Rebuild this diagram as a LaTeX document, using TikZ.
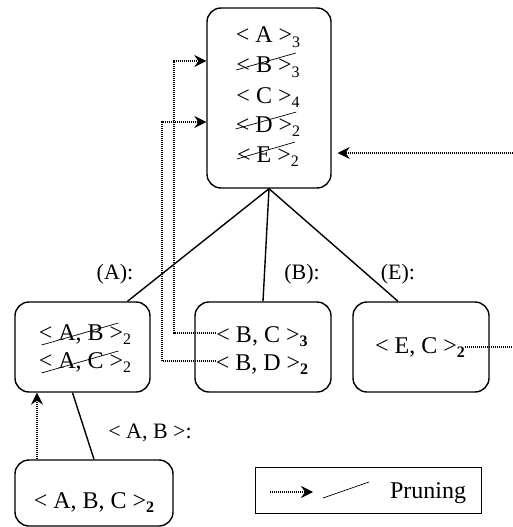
\documentclass[tikz,border=0pt]{standalone}
\usepackage{fontspec}
\setmainfont{Liberation Serif}
\usetikzlibrary{arrows.meta}
\newcommand{\sbn}[1]{{\fontsize{16}{16}\selectfont\raisebox{-4.5pt}{#1}}}
\newcommand{\sbb}[1]{{\fontsize{16}{16}\selectfont\bfseries\raisebox{-4.5pt}{#1}}}
\begin{document}
\begin{tikzpicture}[x=1pt,y=-1pt,
 box/.style={draw, line width=1.4pt, rounded corners=14pt, inner sep=0pt},
 txt/.style={font=\fontsize{24}{28}\selectfont, inner sep=0pt, anchor=base},
 lbl/.style={font=\fontsize{22}{26}\selectfont, inner sep=0pt, anchor=base},
 tedge/.style={line width=1.4pt},
 dots/.style={line width=1.1pt, dash pattern=on 1pt off 1pt},
 prune/.style={dots, -{Stealth[length=12pt,width=12pt,inset=4pt]}},
 strike/.style={line width=0.7pt}]
\useasboundingbox (0,0) rectangle (513,527);
% boxes
\node[box, minimum width=124pt, minimum height=180pt] (top) at (269,98) {};
\node[box, minimum width=135pt, minimum height=90pt] (ba) at (82.5,347) {};
\node[box, minimum width=136pt, minimum height=90pt] (bb) at (263,347) {};
\node[box, minimum width=136pt, minimum height=90pt] (be) at (421,347) {};
\node[box, minimum width=158pt, minimum height=66pt] (babc) at (94,493) {};
\node[draw, line width=1pt, minimum width=226pt, minimum height=46pt, inner sep=0pt] (leg) at (368,490) {};
% top box texts
\node[txt] (ta) at (268,43) {< A >\sbn{3}};
\node[txt] (tb) at (268,73) {< B >\sbn{3}};
\node[txt] (tc) at (268,103) {< C >\sbn{4}};
\node[txt] (td) at (268,132) {< D >\sbn{2}};
\node[txt] (te) at (268,162) {< E >\sbn{2}};
% box texts
\node[txt] (ab) at (85,340) {< A, B >\sbn{2}};
\node[txt] (ac) at (85,368) {< A, C >\sbn{2}};
\node[txt] (bc) at (262,342) {< B, C >\sbb{3}};
\node[txt] (bd) at (262,370) {< B, D >\sbb{2}};
\node[txt] (ec) at (420,353) {< E, C >\sbb{2}};
\node[txt] (abc) at (94,508) {< A, B, C >\sbb{2}};
% labels
\node[lbl] (la) at (115,279) {(A):};
\node[lbl] (lb) at (302,279) {(B):};
\node[lbl] (le) at (398,279) {(E):};
\node[lbl] (lab) at (150,438) {< A, B >:};
% tree edges
\draw[tedge] (top.south) -- ([xshift=45pt]ba.north);
\draw[tedge] (top.south) -- (bb.north);
\draw[tedge] (top.south) -- ([xshift=-23pt]be.north);
\draw[tedge] (babc.north) -- ([xshift=-10pt]ba.south);
% strikes
\foreach \n in {tb,td,te}{
  \draw[strike] ([shift={(0,-3)}]\n.base west) -- ([shift={(-4,-20)}]\n.base east);
}
\foreach \n in {ab,ac}{
  \draw[strike] ([shift={(3,5)}]\n.base west) -- ([shift={(-13,-17)}]\n.base east);
}
% pruning arrows
\coordinate (k1) at (174,61);
\coordinate (k2) at (162,122);
\draw[prune] ([yshift=9pt]bc.base west) -| (k1) -- (k1 -| top.west);
\draw[prune] ([yshift=9pt]bd.base west) -| (k2) -- (k2 -| top.west);
\coordinate (r1) at (513,153);
\draw[prune] (r1) -- ([xshift=6pt]r1 -| top.east);
\coordinate (eout) at (513,347);
\draw[dots] (eout -| ec.east) -- (eout);
\coordinate (u1) at (37,0);
\draw[prune] (u1 |- babc.north) -- (u1 |- ba.south);
% legend
\coordinate (l1) at (270,492);
\coordinate (l2) at (313,492);
\draw[prune] (l1) -- (l2);
\coordinate (s1) at (323,498);
\coordinate (s2) at (369,482);
\draw[strike] (s1) -- (s2);
\node[txt] (pr) at (428,498) {Pruning};
\end{tikzpicture}
\end{document}
